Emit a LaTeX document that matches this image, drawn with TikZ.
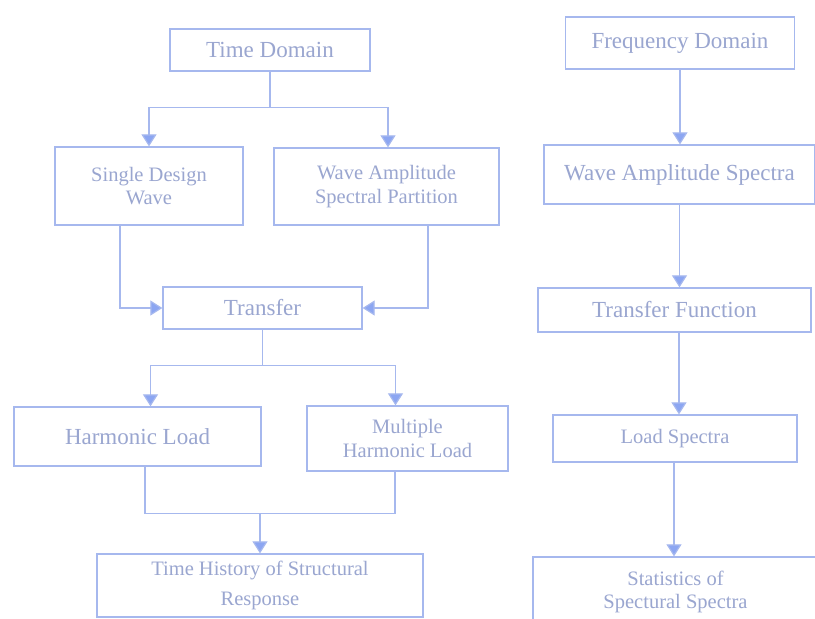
\documentclass[tikz,border=0pt]{standalone}
\usepackage{fontspec}
\setmainfont{Liberation Serif}
\usepackage{tikz}
\usetikzlibrary{arrows.meta, positioning}
\definecolor{boxblue}{HTML}{A6B8EE}
\definecolor{textblue}{HTML}{9AA6D0}
\definecolor{tipblue}{HTML}{8CA6F2}

\begin{document}
\begin{tikzpicture}[x=1pt, y=-1pt,
  every node/.style = {shape=rectangle, draw=boxblue, line width=1.3pt,
    text=textblue, align=center, inner sep=2pt,
    font=\fontsize{23}{26}\selectfont},
  small/.style = {font=\fontsize{20.5}{23.5}\selectfont},
  line/.style = {draw=boxblue, line width=1.2pt},
  flow/.style = {line, -{Triangle[width=15pt, length=12pt, fill=tipblue]}}]
  \clip (0,0) rectangle (815,619);
  \fill[white] (0,0) rectangle (815,619);

  % time domain side
  \node[minimum width=200, minimum height=42] (time) at (270,50) {Time Domain};
  \node[small, minimum width=188, minimum height=78] (single) at (149,186) {Single Design\\ Wave};
  \node[small, minimum width=225, minimum height=77] (partition) at (386.5,186.5) {Wave Amplitude\\ Spectral Partition};
  \node[minimum width=199, minimum height=42] (transfer) at (262.5,308) {Transfer};
  \node[minimum width=247, minimum height=59] (harm) at (137.5,436.5) {Harmonic Load};
  \node[small, minimum width=201, minimum height=65] (multi) at (407.5,438.5) {Multiple\\ Harmonic Load};
  \node[small, font=\fontsize{20.5}{30}\selectfont, minimum width=326, minimum height=63] (hist) at (260,585.5) {Time History of Structural\\ Response};

  % frequency domain side
  \node[minimum width=229, minimum height=52] (freq) at (680,43) {Frequency Domain};
  \node[minimum width=271, minimum height=59] (wspec) at (679.5,174.5) {Wave Amplitude Spectra};
  \node[minimum width=273, minimum height=44] (tfunc) at (674.5,310) {Transfer Function};
  \node[small, minimum width=244, minimum height=47] (lspec) at (675,438.5) {Load Spectra};
  \node[small, minimum width=285, minimum height=70] (stats) at (675.5,592) {Statistics of\\ Spectural Spectra};

  \draw[flow] (time.south) -- ++(0,36) -| (single.north);
  \draw[flow] (time.south) -- ++(0,36) -| ([xshift=1.5]partition.north);
  \draw[flow] ([xshift=-29]single.south) |- (transfer.west);
  \draw[flow] ([xshift=41.5]partition.south) |- (transfer.east);
  \draw[flow] (transfer.south) -- ++(0,36) -| ([xshift=13]harm.north);
  \draw[flow] (transfer.south) -- ++(0,36) -| ([xshift=-12]multi.north);
  \draw[line] ([xshift=7.5]harm.south) -- ++(0,47) coordinate (join) -| ([xshift=-12.5]multi.south);
  \draw[flow] (hist.north |- join) -- (hist.north);

  \draw[flow] (freq.south) -- (freq.south |- wspec.north);
  \draw[flow] (wspec.south) -- (wspec.south |- tfunc.north);
  \draw[flow] ([xshift=4.5]tfunc.south) -- ([xshift=4.5]tfunc.south |- lspec.north);
  \draw[flow] ([xshift=-1]lspec.south) -- ([xshift=-1]lspec.south |- stats.north);
\end{tikzpicture}
\end{document}
